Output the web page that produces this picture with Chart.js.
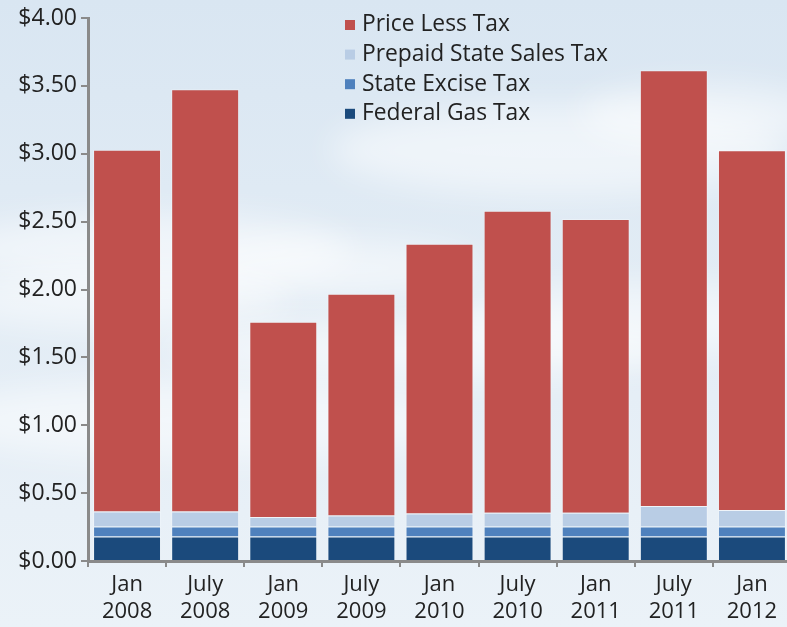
<!DOCTYPE html>
<html lang="en">
<head>
    <meta charset="UTF-8">
    <title>Gas Price Breakdown</title>
    <script src="https://cdn.jsdelivr.net/npm/chart.js"></script>
    <style>
        html, body { margin: 0; padding: 0; background: #e4eef7; overflow: hidden; }
        /* plot runs a few pixels past the right edge, like the original */
        #wrap { position: relative; width: 787px; height: 627px; overflow: hidden; }
    </style>
</head>
<body>
    <div id="wrap">
        <canvas id="taxChart" width="791" height="627"></canvas>
    </div>

    <script>
        // periods on the x axis (two lines each)
        var periods = [
            ['Jan', '2008'], ['July', '2008'], ['Jan', '2009'], ['July', '2009'],
            ['Jan', '2010'], ['July', '2010'], ['Jan', '2011'], ['July', '2011'], ['Jan', '2012']
        ];

        // dollars per gallon, bottom of the stack first
        var federalGasTax = [0.18, 0.18, 0.18, 0.18, 0.18, 0.18, 0.18, 0.18, 0.18];
        var stateExciseTax = [0.075, 0.075, 0.075, 0.075, 0.075, 0.075, 0.075, 0.075, 0.075];
        var prepaidSalesTax = [0.11, 0.11, 0.07, 0.08, 0.095, 0.10, 0.10, 0.15, 0.12];
        var priceLessTax = [2.665, 3.11, 1.437, 1.633, 1.987, 2.225, 2.165, 3.21, 2.65];

        var yTicks = [0, 0.5, 1, 1.5, 2, 2.5, 3, 3.5, 4];

        var colPrice = '#c0504d';
        var colPrepaid = '#b9cde5';
        var colExcise = '#4f81bd';
        var colFederal = '#1b4a7c';

        var fontFam = '"Open Sans", "DejaVu Sans", sans-serif';

        // soft sky background with a few clouds
        var skyPlugin = {
            id: 'sky',
            beforeDraw: function (chart) {
                var c = chart.ctx;
                var w = chart.width, h = chart.height;
                c.save();
                var g = c.createLinearGradient(0, 0, 0, h);
                g.addColorStop(0, '#d9e6f2');
                g.addColorStop(0.45, '#e2ecf5');
                g.addColorStop(1, '#ebf2f8');
                c.fillStyle = g;
                c.fillRect(0, 0, w, h);

                c.filter = 'blur(16px)';
                c.fillStyle = 'rgba(255,255,255,0.5)';
                var blobs = [
                    [150, 250, 200, 36], [330, 268, 150, 28], [120, 300, 170, 30],
                    [560, 150, 230, 45], [700, 115, 120, 30], [420, 350, 260, 30],
                    [650, 320, 200, 35], [200, 420, 260, 40]
                ];
                blobs.forEach(function (b) {
                    c.beginPath();
                    c.ellipse(b[0], b[1], b[2], b[3], 0, 0, Math.PI * 2);
                    c.fill();
                });
                c.restore();
            }
        };

        // legend drawn inside the plot, upper middle
        var legendPlugin = {
            id: 'insideLegend',
            afterDraw: function (chart) {
                var c = chart.ctx;
                var items = [
                    ['Price Less Tax', colPrice],
                    ['Prepaid State Sales Tax', colPrepaid],
                    ['State Excise Tax', colExcise],
                    ['Federal Gas Tax', colFederal]
                ];
                c.save();
                c.font = '22.8px ' + fontFam;
                c.textBaseline = 'middle';
                items.forEach(function (it, i) {
                    var y = 25 + i * 29.6;
                    c.fillStyle = it[1];
                    c.fillRect(345, y - 5, 10, 10);
                    c.fillStyle = '#222';
                    c.fillText(it[0], 362, y);
                });
                c.restore();
            }
        };

        var ds = function (label, data, color) {
            return {
                label: label,
                data: data,
                backgroundColor: color,
                borderColor: 'rgba(255,255,255,0.3)',
                borderWidth: 1,
                categoryPercentage: 1,
                barPercentage: 0.87,
                stack: 'price'
            };
        };

        new Chart(document.getElementById('taxChart'), {
            type: 'bar',
            data: {
                labels: periods,
                datasets: [
                    ds('Federal Gas Tax', federalGasTax, colFederal),
                    ds('State Excise Tax', stateExciseTax, colExcise),
                    ds('Prepaid State Sales Tax', prepaidSalesTax, colPrepaid),
                    ds('Price Less Tax', priceLessTax, colPrice)
                ]
            },
            options: {
                responsive: false,
                animation: false,
                layout: { padding: { top: 18, right: 0, left: 0, bottom: 0 } },
                plugins: {
                    legend: { display: false },
                    tooltip: { enabled: false }
                },
                scales: {
                    x: {
                        stacked: true,
                        afterFit: function (axis) { axis.height = 66; },
                        border: { color: '#8a8a8a', width: 3 },
                        grid: {
                            drawOnChartArea: false,
                            color: '#8a8a8a',
                            lineWidth: 2,
                            tickLength: 6
                        },
                        ticks: {
                            color: '#222',
                            font: { family: fontFam, size: 22, lineHeight: 1.22 },
                            padding: 4,
                            maxRotation: 0
                        }
                    },
                    y: {
                        stacked: true,
                        min: 0,
                        max: 4,
                        afterBuildTicks: function (axis) {
                            axis.ticks = yTicks.map(function (v) { return { value: v }; });
                        },
                        afterFit: function (axis) { axis.width = 88; },
                        border: { color: '#8a8a8a', width: 3 },
                        grid: {
                            drawOnChartArea: false,
                            color: '#8a8a8a',
                            lineWidth: 2,
                            tickLength: 7
                        },
                        ticks: {
                            color: '#222',
                            font: { family: fontFam, size: 23 },
                            padding: 4,
                            callback: function (v) { return '$' + v.toFixed(2); }
                        }
                    }
                }
            },
            plugins: [skyPlugin, legendPlugin]
        });
    </script>
</body>
</html>
